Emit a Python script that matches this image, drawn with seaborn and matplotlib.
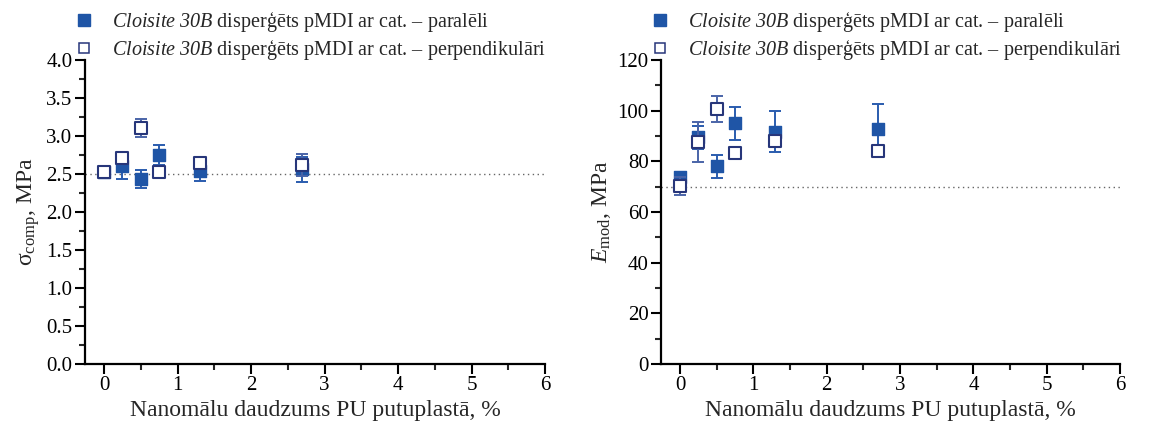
import numpy as np
import pandas as pd
import matplotlib
matplotlib.use("Agg")
import matplotlib.pyplot as plt
from matplotlib.ticker import MultipleLocator, FormatStrFormatter
from matplotlib.lines import Line2D
import seaborn as sns

# Nanoclay content, %
x_vals = [0, 0.25, 0.5, 0.75, 1.3, 2.7]

# Compressive strength, MPa
sigma_par = [2.52, 2.60, 2.43, 2.75, 2.54, 2.56]
sigma_par_err = [0.03, 0.17, 0.12, 0.13, 0.13, 0.16]
sigma_perp = [2.53, 2.71, 3.11, 2.53, 2.64, 2.62]
sigma_perp_err = [0.03, 0.06, 0.12, 0.05, 0.05, 0.14]

# Elastic modulus, MPa
e_par = [73.8, 89.5, 78.0, 95.0, 91.7, 92.6]
e_par_err = [1.5, 4.5, 4.6, 6.6, 8.0, 10.0]
e_perp = [70.3, 87.6, 100.7, 83.2, 88.2, 84.1]
e_perp_err = [3.6, 7.8, 5.2, 1.0, 2.0, 1.5]

sigma_ref = 2.5
e_ref = 70

legend_labels = [
    r"$\mathsf{Cloisite\ 30B}$ disperģēts pMDI ar cat. – paralēli",
    r"$\mathsf{Cloisite\ 30B}$ disperģēts pMDI ar cat. – perpendikulāri",
]
x_label = "Nanomālu daudzums PU putuplastā, %"

sns.set_style("ticks")
plt.rcParams["font.family"] = ["Liberation Serif", "DejaVu Serif"]
plt.rcParams["mathtext.fontset"] = "custom"
plt.rcParams["mathtext.rm"] = "Liberation Serif"
plt.rcParams["mathtext.it"] = "Liberation Serif:italic"
plt.rcParams["mathtext.sf"] = "Liberation Serif:italic"
plt.rcParams["mathtext.bf"] = "Liberation Serif:bold"

FILLED = "#1f55a6"
FILLED_ERR = "#2a5cae"
OPEN_EDGE = "#27367a"
OPEN_ERR = "#4a64a8"

fig = plt.figure(figsize=(11.5, 4.23), dpi=100)
ax1 = fig.add_axes([0.0739, 0.1395, 0.4, 0.7187])
ax2 = fig.add_axes([0.5748, 0.1395, 0.3992, 0.7187])


def draw_panel(ax, par, par_err, perp, perp_err, ref, ylim, major, minor, ylabel):
    df = pd.DataFrame({"x": x_vals, "par": par, "perp": perp})
    ax.axhline(ref, color="#666666", ls=(0, (1, 2.5)), lw=1.0, zorder=1)
    ax.errorbar(x_vals, par, yerr=par_err, fmt="none", ecolor=FILLED_ERR,
                elinewidth=1.4, capsize=4, capthick=1.4, zorder=2)
    sns.scatterplot(data=df, x="x", y="par", marker="s", s=80, color=FILLED,
                    edgecolor=FILLED, linewidth=1, ax=ax, zorder=3)
    ax.errorbar(x_vals, perp, yerr=perp_err, fmt="none", ecolor=OPEN_ERR,
                elinewidth=1.4, capsize=4, capthick=1.4, zorder=4)
    sns.scatterplot(data=df, x="x", y="perp", marker="s", s=65, color="white",
                    edgecolor=OPEN_EDGE, linewidth=1.5, ax=ax, zorder=5)
    ax.set_xlim(-0.26, 6)
    ax.set_ylim(*ylim)
    ax.xaxis.set_major_locator(MultipleLocator(1))
    ax.xaxis.set_minor_locator(MultipleLocator(0.5))
    ax.yaxis.set_major_locator(MultipleLocator(major))
    ax.yaxis.set_minor_locator(MultipleLocator(minor))
    ax.tick_params(which="major", direction="out", length=7, width=1.5,
                   labelsize=15, colors="black", pad=2)
    ax.tick_params(which="minor", direction="out", length=4, width=1.5)
    for s in ("top", "right"):
        ax.spines[s].set_visible(False)
    for s in ("left", "bottom"):
        ax.spines[s].set_linewidth(1.6)
        ax.spines[s].set_color("black")
    ax.set_xlabel(x_label, fontsize=17, labelpad=3)
    ax.set_ylabel(ylabel, fontsize=17, labelpad=3)


draw_panel(ax1, sigma_par, sigma_par_err, sigma_perp, sigma_perp_err, sigma_ref,
           (0, 4.0), 0.5, 0.25, r"$\mathrm{σ}_{\mathrm{comp}}$, MPa")
ax1.yaxis.set_major_formatter(FormatStrFormatter("%.1f"))
draw_panel(ax2, e_par, e_par_err, e_perp, e_perp_err, e_ref,
           (0, 120), 20, 10, r"$E_{\mathrm{mod}}$, MPa")

handles = [
    Line2D([], [], ls="none", marker="s", ms=8, color=FILLED, mec=FILLED),
    Line2D([], [], ls="none", marker="s", ms=7.5, mfc="white", mec=OPEN_EDGE, mew=1.1),
]
for xpos in (0.051, 0.552):
    fig.legend(handles, legend_labels, loc="upper left",
               bbox_to_anchor=(xpos, 1.012), frameon=False, fontsize=14.5,
               handlelength=1.0, handletextpad=0.9, labelspacing=0.2,
               borderaxespad=0.35)

fig.savefig("out.png", dpi=100)
